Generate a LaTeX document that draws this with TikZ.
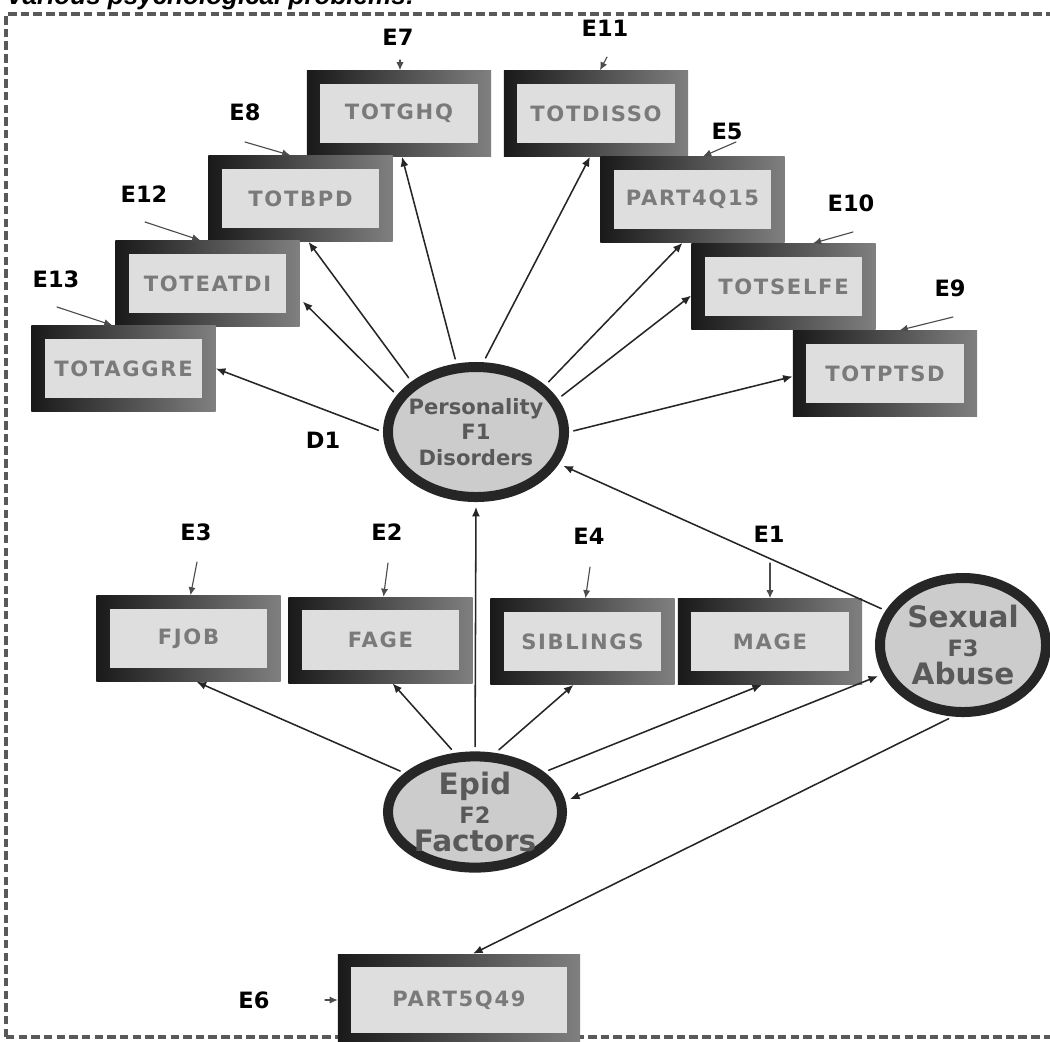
\documentclass[tikz,border=0pt]{standalone}
\usepackage{fontspec}
\usepackage{tikz}
\usetikzlibrary{arrows.meta,calc,shapes.geometric}
\newfontfamily\diagfont{DejaVu Sans}
\newfontfamily\boxfont{DejaVu Sans}[LetterSpace=8]
\newfontfamily\titlefont{Liberation Sans}

\begin{document}
\begin{tikzpicture}[
  x=0.025cm, y=-0.025cm,
  >=Latex,
  line cap=round,
  line join=round,
  obsbox/.style={rectangle, minimum width=4.6cm, minimum height=2.15cm, inner sep=0pt,
    left color=black!90, right color=black!50,
    path picture={\fill[black!13]
      ([shift={(0.33cm,-0.33cm)}]path picture bounding box.north west) rectangle
      ([shift={(-0.33cm,0.33cm)}]path picture bounding box.south east);},
    font=\boxfont\bfseries\fontsize{15}{15}\selectfont, text=black!52},
  factor/.style={ellipse, draw=black!85, line width=0.25cm, fill=black!20, inner sep=0pt},
  flabel/.style={align=center, text=black!65, font=\diagfont\bfseries\fontsize{21}{20}\selectfont},
  errlabel/.style={font=\diagfont\bfseries\fontsize{16}{16}\selectfont, text=black},
  effect/.style={-{Latex[length=2.4mm,width=2mm]}, draw=black!85, line width=1.1pt},
  errpath/.style={-{Latex[length=2mm,width=1.8mm]}, draw=black!70, line width=0.8pt},
  frame/.style={draw=black!65, line width=3pt, line cap=butt, dash pattern=on 6pt off 3pt}
]
\useasboundingbox (0,0) rectangle (1050,1041);

% page frame and cut title
\draw[frame] (6,1037) -- (6,14) -- (1050,14);
\draw[frame] (6,1037) -- (1050,1037);
\node[anchor=base west, inner sep=0pt, font=\titlefont\bfseries\itshape\fontsize{18.5}{18.5}\selectfont]
  (title) at (6,4) {Various psychological problems:};

% indicators of the personality factor
\node[obsbox] (ghq)   at (399,113.5) {TOTGHQ};
\node[obsbox] (disso) at (596,113.5) {TOTDISSO};
\node[obsbox] (bpd)   at (300.5,198.5) {TOTBPD};
\node[obsbox] (part4) at (692.5,199.5) {PART4Q15};
\node[obsbox] (eatdi) at (207.5,283.5) {TOTEATDI};
\node[obsbox] (selfe) at (783.5,286.5) {TOTSELFE};
\node[obsbox] (aggre) at (123.5,368.5) {TOTAGGRE};
\node[obsbox] (ptsd)  at (885,373.5) {TOTPTSD};

% indicators of the epidemiological factor
\node[obsbox] (fjob)  at (188.5,638.5) {FJOB};
\node[obsbox] (fage)  at (380.5,640) {FAGE};
\node[obsbox] (sibl)  at (582.5,641.5) {SIBLINGS};
\node[obsbox] (mage)  at (770,641.5) {MAGE};
\node[obsbox, minimum width=6.05cm, minimum height=2.3cm] (part5) at (459,1000) {PART5Q49};

% latent factors
\node[factor, minimum width=4.4cm, minimum height=3.25cm,
  label={[flabel, font=\diagfont\bfseries\fontsize{15}{18}\selectfont]center:Personality\\F1\\Disorders}]
  (f1) at (476,432) {};
\node[factor, minimum width=4.35cm, minimum height=2.78cm,
  label={[flabel]center:Epid\\{\fontsize{16}{16}\selectfont F2}\\Factors}]
  (f2) at (475,812) {};
\node[factor, minimum width=4.15cm, minimum height=3.35cm,
  label={[flabel]center:Sexual\\{\fontsize{16}{16}\selectfont F3}\\Abuse}]
  (f3) at (963,645) {};

% error and disturbance labels
\node[errlabel] (e7)  at (398,37)  {E7};
\node[errlabel] (e11) at (605,28)  {E11};
\node[errlabel] (e8)  at (245,112) {E8};
\node[errlabel] (e5)  at (727,131) {E5};
\node[errlabel] (e12) at (144,194) {E12};
\node[errlabel] (e10) at (851,203) {E10};
\node[errlabel] (e13) at (56,279)  {E13};
\node[errlabel] (e9)  at (950,288) {E9};
\node[errlabel] (d1)  at (323,440) {D1};
\node[errlabel] (e3)  at (196,532) {E3};
\node[errlabel] (e2)  at (387,532) {E2};
\node[errlabel] (e4)  at (589,536) {E4};
\node[errlabel] (e1)  at (769,534) {E1};
\node[errlabel] (e6)  at (254,1000) {E6};

\coordinate (e7t)  at (400,60);
\coordinate (e11t) at (607,57);
\coordinate (e8t)  at (245,142);
\coordinate (e5t)  at (736,142);
\coordinate (e12t) at (145,222);
\coordinate (e10t) at (853,232);
\coordinate (e13t) at (57,307);
\coordinate (e9t)  at (953,317);
\coordinate (e3t)  at (197,562);
\coordinate (e2t)  at (388,563);
\coordinate (e4t)  at (590,567);
\coordinate (e1t)  at (770,563);
\coordinate (e6t)  at (325,1000);

\draw[errpath] (e7t) -- (e7t |- ghq.north);
\draw[errpath] (e11t) -- ($(disso.north)+(4,0)$);
\draw[errpath] (e8t) -- ($(bpd.north west)+(82,0)$);
\draw[errpath] (e5t) -- ($(part4.north west)+(103,0)$);
\draw[errpath] (e12t) -- ($(eatdi.north west)+(85,0)$);
\draw[errpath] (e10t) -- ($(selfe.north west)+(122,0)$);
\draw[errpath] (e13t) -- ($(aggre.north west)+(81,0)$);
\draw[errpath] (e9t) -- ($(ptsd.north west)+(107,0)$);
\draw[errpath] (e3t) -- ($(fjob.north)+(2,0)$);
\draw[errpath] (e2t) -- ($(fage.north)+(3,0)$);
\draw[errpath] (e4t) -- ($(sibl.north)+(3,0)$);
\draw[errpath] (e1t) -- (mage.north);
\draw[errpath] (e6t) -- (part5.west);

% loadings of F1
\draw[effect, shorten <=0.12cm] (f1.west) -- (aggre.east);
\draw[effect, shorten <=0.12cm] (f1.155.5) -- ($(eatdi.east)+(3,18)$);
\draw[effect, shorten <=0.12cm] (f1.142.9) -- ($(bpd.south)+(8,0)$);
\draw[effect, shorten <=0.12cm] (f1.106.7) -- ($(ghq.south)+(3,0)$);
\draw[effect, shorten <=0.12cm] (f1.84.3) -- ($(disso.south)+(-6,0)$);
\draw[effect, shorten <=0.12cm] (f1.34.6) -- ($(part4.south)+(-10,0)$);
\draw[effect, shorten <=0.12cm] (f1.22.6) -- ($(selfe.west)+(0,9)$);
\draw[effect, shorten <=0.12cm] (f1.east) -- ($(ptsd.west)+(0,3)$);

% loadings of F2 and paths between factors
\draw[effect, shorten <=0.12cm] (f2.151.6) -- ($(fjob.south)+(8,0)$);
\draw[effect, shorten <=0.12cm] (f2.109) -- ($(fage.south)+(12,0)$);
\draw[effect, shorten <=0.12cm] (f2.71) -- ($(sibl.south)+(-9,0)$);
\draw[effect, shorten <=0.12cm] (f2.30) -- ($(mage.south)+(-8,0)$);
\draw[effect, shorten <=0.12cm, shorten >=0.12cm] (f2.north) -- (f1.south);
\draw[effect, shorten <=0.12cm, shorten >=0.12cm] (f3.156.4) -- (f1.339);
\draw[effect, {Latex[length=2.4mm,width=2mm]}-{Latex[length=2.4mm,width=2mm]},
  shorten <=0.12cm, shorten >=0.12cm] (f2.7) -- (f3.200);
\draw[effect, shorten <=0.12cm] (f3.262) -- ($(part5.north)+(14,0)$);
\end{tikzpicture}
\end{document}
